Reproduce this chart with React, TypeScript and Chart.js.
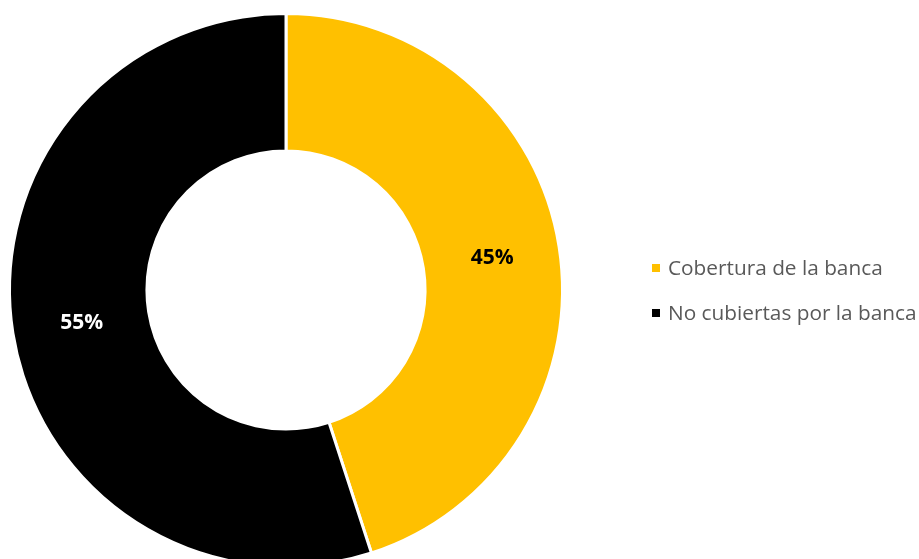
import React, { useEffect, useRef } from "react";
import { Chart, registerables } from "chart.js";

Chart.register(...registerables);

const categories = ["Cobertura de la banca", "No cubiertas por la banca"];
const values = [45, 55];
const colors = ["#FFC000", "#000000"];
const labelColors = ["#000000", "#FFFFFF"];
const FONT = "'Open Sans', 'Noto Sans', sans-serif";

const labelPlugin = {
  id: "sliceLabels",
  afterDatasetsDraw(chart: any) {
    const { ctx } = chart;
    const meta = chart.getDatasetMeta(0);
    const total = values.reduce((a, b) => a + b, 0);
    ctx.save();
    ctx.font = `bold 21px ${FONT}`;
    ctx.textAlign = "center";
    ctx.textBaseline = "middle";
    meta.data.forEach((arc: any, i: number) => {
      const p = arc.tooltipPosition();
      ctx.fillStyle = labelColors[i];
      ctx.fillText(Math.round((values[i] / total) * 100) + "%", p.x + 1, p.y + 1);
    });
    ctx.restore();
  },
};

export default function App() {
  const ref = useRef<HTMLCanvasElement | null>(null);
  useEffect(() => {
    if (!ref.current) return;
    const chart = new Chart(ref.current, {
      type: "doughnut",
      data: {
        labels: categories,
        datasets: [
          {
            data: values,
            backgroundColor: colors,
            borderColor: "#FFFFFF",
            borderWidth: 3,
            hoverOffset: 0,
          },
        ],
      },
      options: {
        animation: false,
        responsive: false,
        cutout: "50.3%",
        layout: { padding: { left: 8, top: 12, right: 355, bottom: 14 } },
        plugins: {
          legend: { display: false },
          tooltip: { enabled: false },
        },
      },
      plugins: [labelPlugin],
    });
    return () => chart.destroy();
  }, []);

  return (
    <div
      style={{
        position: "fixed",
        left: 0,
        top: 0,
        width: 919,
        height: 559,
        overflow: "hidden",
        background: "#FFFFFF",
      }}
    >
      <canvas
        ref={ref}
        width={919}
        height={582}
        style={{ position: "absolute", left: 0, top: 0, width: 919, height: 582 }}
      />
      <div
        style={{
          position: "absolute",
          left: 652,
          top: 251,
          fontFamily: FONT,
          fontSize: 20.8,
          color: "#595959",
          lineHeight: "32px",
        }}
      >
        {categories.map((c, i) => (
          <div
            key={c}
            style={{ display: "flex", alignItems: "center", height: 45, marginTop: i === 0 ? -7 : 0 }}
          >
            <span
              style={{
                display: "inline-block",
                width: 8,
                height: 8,
                background: colors[i],
                marginRight: 8,
                position: "relative",
                top: 1,
              }}
            />
            <span style={{ whiteSpace: "nowrap" }}>{c}</span>
          </div>
        ))}
      </div>
    </div>
  );
}
